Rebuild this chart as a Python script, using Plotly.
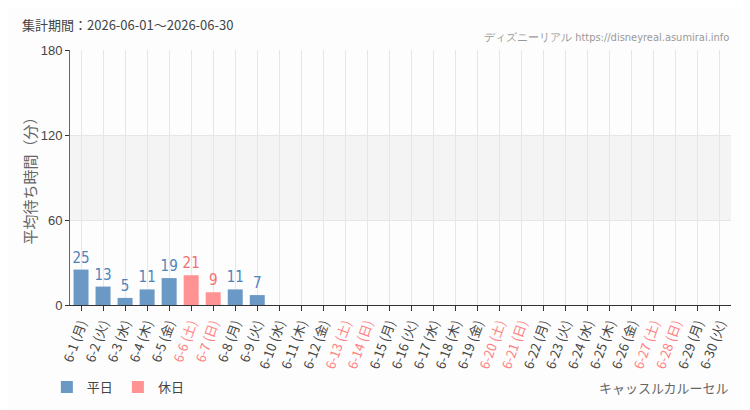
import plotly.graph_objects as go

days = [f"6-{d}" for d in range(1, 31)]
weekdays = ["月", "火", "水", "木", "金", "土", "日"] * 5
weekdays = weekdays[:30]

heijitsu_x = ["6-1", "6-2", "6-3", "6-4", "6-5", "6-8", "6-9"]
heijitsu_y = [25, 13, 5, 11, 19, 11, 7]
kyujitsu_x = ["6-6", "6-7"]
kyujitsu_y = [21, 9]
holidays = ["6-6", "6-7", "6-13", "6-14", "6-20", "6-21", "6-27", "6-28"]

yticks = [0, 60, 120, 180]

BLUE = "#6b99c6"
PINK = "#ff9393"
JP = "Noto Sans CJK JP, sans-serif"
NARROW = "Liberation Sans Narrow, DejaVu Sans Condensed, Roboto Condensed, Arial Narrow, sans-serif"

ticktext = []
for d, w in zip(days, weekdays):
    label = "{} ({})".format(d, w)
    if d in holidays:
        label = '<span style="color:#ff8080">{}</span>'.format(label)
    ticktext.append(label)

fig = go.Figure()

fig.add_trace(go.Bar(x=heijitsu_x, y=heijitsu_y, name="平日",
                     marker=dict(color=BLUE, line=dict(width=0)),
                     text=heijitsu_y, textposition="outside", cliponaxis=False,
                     constraintext="none",
                     textfont=dict(family=NARROW, size=15, color="#4f83bb")))
fig.add_trace(go.Bar(x=kyujitsu_x, y=kyujitsu_y, name="休日",
                     marker=dict(color=PINK, line=dict(width=0)),
                     text=kyujitsu_y, textposition="outside", cliponaxis=False,
                     constraintext="none",
                     textfont=dict(family=NARROW, size=15, color="#f26f73")))

# light band between 60 and 120
fig.add_hrect(y0=60, y1=120, fillcolor="#f4f4f4", line_width=0, layer="below")

fig.update_xaxes(type="category", categoryorder="array", categoryarray=days,
                 tickmode="array", tickvals=days, ticktext=ticktext,
                 tickangle=-70, tickfont=dict(family=JP, size=13, color="#444"),
                 showgrid=True, gridcolor="#e6e6e6", gridwidth=1,
                 showline=True, linecolor="#333", linewidth=1,
                 ticks="outside", ticklen=5, tickcolor="#333",
                 range=[-0.5, 29.5])
fig.update_yaxes(range=[0, 180], tickvals=yticks,
                 tickfont=dict(family="Liberation Sans, Arial, sans-serif", size=13, color="#444"),
                 showgrid=True, gridcolor="#e6e6e6", zeroline=False,
                 showline=True, linecolor="#666", linewidth=1,
                 ticks="outside", ticklen=4, tickcolor="#333")

# y axis title placed by hand
fig.add_annotation(text="平均待ち時間（分）", xref="paper", yref="paper",
                   x=-41 / 661, y=0.5, xanchor="center", yanchor="middle", textangle=-90,
                   showarrow=False, font=dict(family=JP, size=15, color="#666"))
fig.add_annotation(text="集計期間：2026-06-01～2026-06-30", xref="paper", yref="paper",
                   x=-50 / 661, y=1 + 25 / 255, xanchor="left", yanchor="middle",
                   showarrow=False, font=dict(family=JP, size=13, color="#444"))
fig.add_annotation(text="ディズニーリアル https://disneyreal.asumirai.info", xref="paper", yref="paper",
                   x=1, y=1 + 12 / 255, xanchor="right", yanchor="middle",
                   showarrow=False, font=dict(family=NARROW, size=11, color="#999"))
fig.add_annotation(text="キャッスルカルーセル", xref="paper", yref="paper",
                   x=1, y=-82 / 255, xanchor="right", yanchor="middle",
                   showarrow=False, font=dict(family=JP, size=13, color="#666"))

# page body has an 8px margin, so the figure is offset by 8px
fig.update_layout(
    width=742, height=402,
    margin=dict(l=62, r=19, t=42, b=105, autoexpand=False),
    barmode="overlay", bargap=0.32,
    paper_bgcolor="#fdfdfd", plot_bgcolor="#fdfdfd",
    showlegend=True,
    legend=dict(orientation="h", x=-0.035, y=-82 / 255, xanchor="left", yanchor="middle",
                font=dict(family=JP, size=13, color="#444"), itemwidth=30),
)

fig.write_html("out.html")
